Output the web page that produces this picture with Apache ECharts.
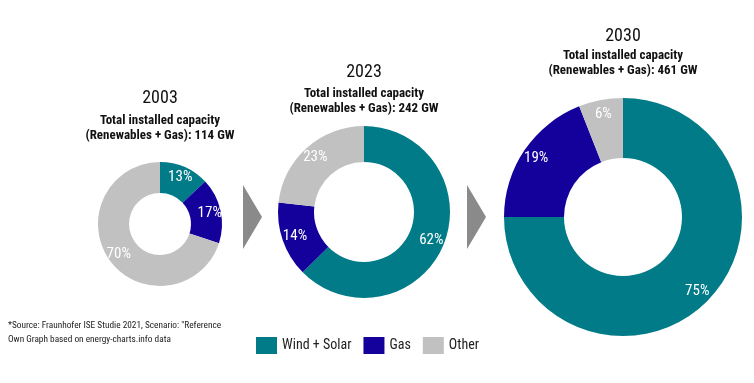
<!DOCTYPE html>
<html><head><meta charset="utf-8">
<script src="https://cdn.jsdelivr.net/npm/echarts@6/dist/echarts.min.js"></script>
<style>html,body{margin:0;padding:0;background:#fff}#c{width:754px;height:383px}</style>
</head><body><div id="c"></div>
<script>
const categories = ['Wind + Solar', 'Gas', 'Other'];
const years = ['2003', '2023', '2030'];
const totals = ['114 GW', '242 GW', '461 GW'];
const values2003 = [13, 17, 70];
const values2023 = [62, 14, 23];
const values2030 = [75, 19, 6];
const colors = ['#007b87', '#14009b', '#c1c1c1'];
const FONT = '"Roboto Condensed","Liberation Sans Narrow",Roboto,sans-serif';

const donuts = [
  {vals: values2003, center: [160, 224], radius: [31, 62], labelR: 48, yearTop: 89, subTop: 113},
  {vals: values2023, center: [364, 212], radius: [50, 86], labelR: 70, yearTop: 63, subTop: 86},
  {vals: values2030, center: [623, 217], radius: [59, 119], labelR: 102, yearTop: 27, subTop: 48}
];

const chart = echarts.init(document.getElementById('c'));
const titles = [];
donuts.forEach((d, i) => {
  titles.push({
    text: years[i], left: d.center[0], top: d.yearTop, textAlign: 'center', padding: 0,
    textStyle: {fontFamily: FONT, fontSize: 18, fontWeight: 'normal', color: '#111'}
  });
  titles.push({
    text: 'Total installed capacity\n(Renewables + Gas): ' + totals[i],
    left: d.center[0], top: d.subTop, textAlign: 'center', padding: 0,
    textStyle: {fontFamily: FONT, fontSize: 13, fontWeight: 'bold', color: '#111', lineHeight: 15}
  });
});
titles.push({
  text: '*Source: Fraunhofer ISE Studie 2021, Scenario: "Reference\nOwn Graph based on energy-charts.info data',
  left: 8, top: 319, padding: 0,
  textStyle: {fontFamily: FONT, fontSize: 9.3, fontWeight: 'normal', color: '#222', lineHeight: 14}
});

const series = [];
donuts.forEach(d => {
  const data = categories.map((c, k) => ({name: c, value: d.vals[k]}));
  series.push({
    type: 'pie', center: d.center, radius: d.radius, startAngle: 90, clockwise: true,
    label: {show: false}, labelLine: {show: false},
    itemStyle: {borderWidth: 0}, emphasis: {disabled: true},
    data: data
  });
  // transparent overlay carrying the percentage labels at the wanted radius
  series.push({
    type: 'pie', center: d.center, radius: [2 * d.labelR - d.radius[1], d.radius[1]],
    startAngle: 90, clockwise: true, silent: true, legendHoverLink: false,
    avoidLabelOverlap: false,
    label: {show: true, position: 'inside', formatter: '{c}%', color: '#fff',
      fontFamily: FONT, fontSize: 15},
    labelLine: {show: false},
    itemStyle: {color: 'rgba(0,0,0,0)', borderWidth: 0}, emphasis: {disabled: true},
    data: data.map(x => ({name: x.name + ' ', value: x.value}))
  });
});

chart.setOption({
  animation: false,
  color: colors,
  title: titles,
  legend: {
    data: categories, left: 256, top: 337, padding: 0, itemWidth: 21, itemHeight: 17, itemGap: 12,
    icon: 'rect',
    textStyle: {fontFamily: FONT, fontSize: 14, color: '#222'}
  },
  graphic: [
    {type: 'polygon', shape: {points: [[243, 185], [262, 217], [243, 249]]}, style: {fill: '#8a8a8a'}},
    {type: 'polygon', shape: {points: [[467, 185], [486, 217], [467, 249]]}, style: {fill: '#8a8a8a'}}
  ],
  series: series
});
</script></body></html>
